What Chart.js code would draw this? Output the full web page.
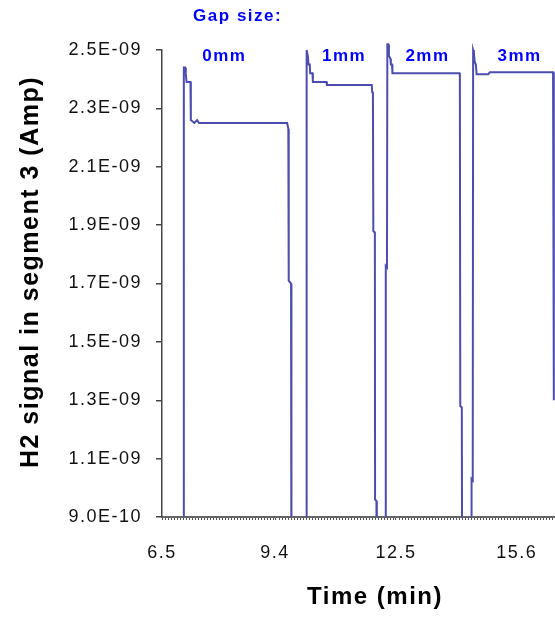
<!DOCTYPE html>
<html>
<head>
<meta charset="utf-8">
<script src="https://cdn.jsdelivr.net/npm/chart.js@4"></script>
<style>
  body { margin: 0; background: #fff; }
  #wrap { width: 555px; height: 620px; }
</style>
</head>
<body>
<div id="wrap"><canvas id="myChart" width="555" height="620"></canvas></div>
<script>
// data: time in min, H2 signal in Amp

var timeMin = [
  6.50, 7.05, 7.06, 7.09, 7.11, 7.13, 7.23, 7.24, 7.33, 7.40, 7.45, 9.71, 9.74, 9.75, 9.81, 9.82,
  10.20, 10.21, 10.24, 10.26, 10.29, 10.30, 10.36, 10.37, 10.72, 10.73, 11.88, 11.89, 11.91, 11.92, 11.96, 11.965, 12.00, 12.01,
  12.23, 12.24, 12.27, 12.28, 12.30, 12.32, 12.36, 12.37, 12.40, 12.41, 14.13, 14.14, 14.15, 14.19, 14.20,
  14.43, 14.44, 14.47, 14.48, 14.50, 14.52, 14.55, 14.57, 14.87, 14.91, 16.53, 16.55
];

var h2Signal = [
  0.50e-9, 0.50e-9, 2.44e-9, 2.44e-9, 2.42e-9, 2.39e-9, 2.39e-9, 2.26e-9, 2.25e-9, 2.26e-9, 2.25e-9, 2.25e-9, 2.23e-9, 1.71e-9, 1.70e-9, 0.50e-9,
  0.50e-9, 2.50e-9, 2.48e-9, 2.45e-9, 2.45e-9, 2.42e-9, 2.42e-9, 2.39e-9, 2.39e-9, 2.38e-9, 2.38e-9, 2.357e-9, 2.35e-9, 1.88e-9, 1.875e-9, 0.96e-9, 0.955e-9, 0.50e-9,
  0.50e-9, 1.76e-9, 1.755e-9, 2.52e-9, 2.52e-9, 2.48e-9, 2.47e-9, 2.45e-9, 2.45e-9, 2.42e-9, 2.42e-9, 2.41e-9, 1.28e-9, 1.275e-9, 0.50e-9,
  0.50e-9, 1.03e-9, 1.025e-9, 2.50e-9, 2.49e-9, 2.46e-9, 2.45e-9, 2.417e-9, 2.417e-9, 2.424e-9, 2.424e-9, 1.30e-9
];

var xTickLabels = [6.5, 9.4, 12.5, 15.6];
var yTickValues = [0.9e-9, 1.1e-9, 1.3e-9, 1.5e-9, 1.7e-9, 1.9e-9, 2.1e-9, 2.3e-9, 2.5e-9];
var gapSizes = ['0mm', '1mm', '2mm', '3mm'];

var FONT = '"Liberation Sans", Arial, sans-serif';

// "2.5E-09" style labels like the spreadsheet
function sciLabel(v) {
  var parts = v.toExponential(1).split('e');
  var exp = parseInt(parts[1], 10);
  var e = Math.abs(exp);
  return parts[0] + 'E' + (exp < 0 ? '-' : '+') + (e < 10 ? '0' : '') + e;
}

var points = timeMin.map(function (t, i) {
  return { x: t, y: h2Signal[i] };
});

// the original text is a bit wider than Arial, spread the letters a little
var spacingPlugin = {
  id: 'spacing',
  beforeDraw: function (chart) {
    chart.ctx.letterSpacing = '1.5px';
  }
};

// axis titles and the blue gap notes
var textPlugin = {
  id: 'texts',
  afterDraw: function (chart) {
    var ctx = chart.ctx;
    var xs = chart.scales.x;
    var noteX = [8.10, 11.17, 13.31, 15.67];
    ctx.save();
    ctx.letterSpacing = '1.5px';
    ctx.textAlign = 'center';
    ctx.textBaseline = 'middle';

    ctx.fillStyle = '#000';
    ctx.font = 'bold 24px ' + FONT;
    ctx.fillText('Time (min)', 375, 597);

    ctx.save();
    ctx.translate(31, 272);
    ctx.rotate(-Math.PI / 2);
    ctx.font = 'bold 25px ' + FONT;
    ctx.fillText('H2 signal in segment 3 (Amp)', 0, 0);
    ctx.restore();

    ctx.fillStyle = '#0000ff';
    ctx.font = 'bold 17px ' + FONT;
    ctx.fillText('Gap size:', xs.getPixelForValue(8.44), 16);
    gapSizes.forEach(function (g, i) {
      ctx.fillText(g, xs.getPixelForValue(noteX[i]), 56);
    });
    ctx.restore();
  }
};

var ctx = document.getElementById('myChart').getContext('2d');
var chart = new Chart(ctx, {
  type: 'line',
  data: {
    datasets: [{
      label: 'H2 signal',
      data: points,
      borderColor: '#4d4db0',
      borderWidth: 2,
      pointRadius: 0,
      tension: 0,
      clip: { left: 0, top: false, right: false, bottom: 0 }
    }]
  },
  options: {
    responsive: false,
    devicePixelRatio: 1,
    animation: false,
    layout: { padding: { top: 50, left: 0, right: 0, bottom: 0 } },
    plugins: {
      legend: { display: false },
      tooltip: { enabled: false }
    },
    scales: {
      x: {
        type: 'linear',
        min: 6.5,
        max: 16.58,
        afterFit: function (scale) {
          scale.height = 103;
          scale.paddingLeft = 0;
          scale.paddingRight = 0;
        },
        afterBuildTicks: function (scale) {
          var ticks = [];
          for (var t = scale.min; t <= scale.max; t += 0.077) {
            var nearLabel = xTickLabels.some(function (v) { return Math.abs(v - t) < 0.035; });
            if (!nearLabel) ticks.push({ value: t });
          }
          xTickLabels.forEach(function (v) { ticks.push({ value: v }); });
          ticks.sort(function (a, b) { return a.value - b.value; });
          scale.ticks = ticks;
        },
        ticks: {
          autoSkip: false,
          maxRotation: 0,
          padding: 22,
          color: '#111',
          font: { family: FONT, size: 18 },
          callback: function (value) {
            return xTickLabels.indexOf(value) >= 0 ? value.toFixed(1) : '';
          }
        },
        grid: { drawOnChartArea: false, tickLength: 3, color: '#555', lineWidth: 1 },
        border: { color: '#666', width: 2 }
      },
      y: {
        min: 0.9e-9,
        max: 2.5e-9,
        afterFit: function (scale) { scale.width = 162; },
        afterBuildTicks: function (scale) {
          scale.ticks = yTickValues.map(function (v) { return { value: v }; });
        },
        ticks: {
          padding: 14,
          color: '#111',
          font: { family: FONT, size: 18 },
          callback: function (value) { return sciLabel(value); }
        },
        grid: { drawOnChartArea: false, tickLength: 6, color: '#444', lineWidth: 1.5 },
        border: { color: '#444', width: 1.5 }
      }
    }
  },
  plugins: [spacingPlugin, textPlugin]
});
</script>
</body>
</html>
